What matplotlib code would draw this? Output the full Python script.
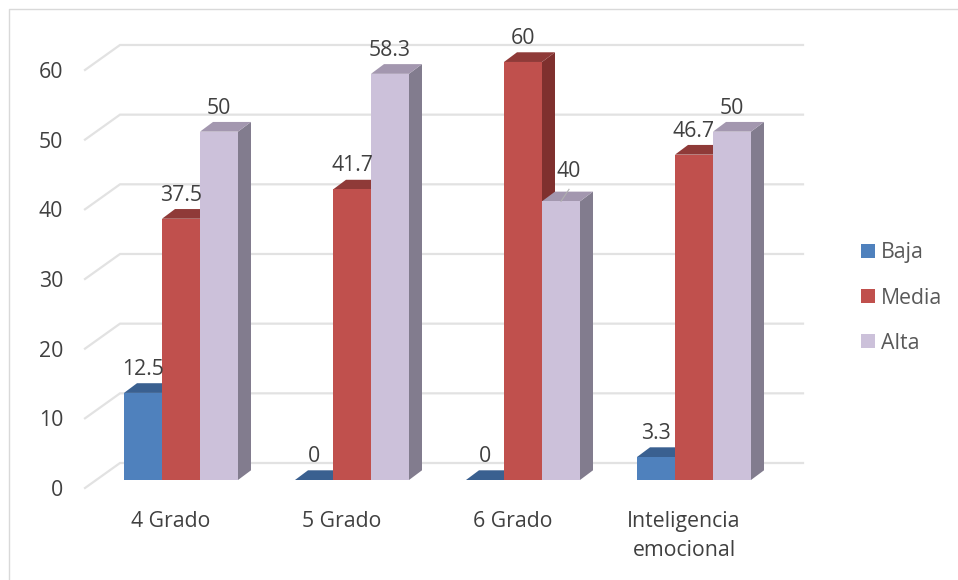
import matplotlib
matplotlib.use('Agg')
import matplotlib.pyplot as plt
from matplotlib.lines import Line2D
from matplotlib.patches import Polygon, Patch, Rectangle

categories = ['4 Grado', '5 Grado', '6 Grado', 'Inteligencia\nemocional']
series = ['Baja', 'Media', 'Alta']
baja = [12.5, 0, 0, 3.3]
media = [37.5, 41.7, 60, 46.7]
alta = [50, 58.3, 40, 50]
labels_baja = ['12.5', '0', '0', '3.3']
labels_media = ['37.5', '41.7', '60', '46.7']
labels_alta = ['50', '58.3', '40', '50']
yticks = [0, 10, 20, 30, 40, 50, 60]

front = ['#4F81BD', '#C0504D', '#CCC1DA']
top = ['#3A6090', '#8F3A38', '#A397AF']
side = ['#2F5480', '#7F302E', '#827C8E']

W, H = 958, 580
PX_X = 171.0   # px per group
PX_Y = 6.967   # px per value unit
X0 = 181.0     # pixel of first group centre
Y0 = 480.0     # pixel of value 0
FS = 15.3

plt.rcParams['font.family'] = ['Open Sans', 'DejaVu Sans']
fig = plt.figure(figsize=(W / 100, H / 100), dpi=100)
ax = fig.add_axes([0, 0, 1, 1])
ax.set_xlim(-X0 / PX_X, (W - X0) / PX_X)
ax.set_ylim((Y0 - H) / PX_Y, Y0 / PX_Y)
ax.axis('off')

bar_w = 38 / PX_X
dx = 13 / PX_X
dy = 9.7 / PX_Y
text_col = '#404040'
grid_col = '#E2E2E2'

# back wall and floor lines
back_dy = 17 / PX_Y
front_dy = -8 / PX_Y
left_back = -61 / PX_X
left_front = -96 / PX_X
for v in yticks:
    ax.plot([left_front, left_back, (803 - X0) / PX_X], [v + front_dy, v + back_dy, v + back_dy],
            color=grid_col, lw=1.6, solid_joinstyle='miter', zorder=1)
    ax.text((63 - X0) / PX_X, v - 10.5 / PX_Y, str(v), ha='right', va='center', fontsize=FS, color=text_col)

for i, cat in enumerate(categories):
    ax.text(i - 10 / PX_X, -31 / PX_Y, cat, ha='center', va='top', fontsize=FS,
            color=text_col, linespacing=1.48)

# bars, painted left to right so each one covers the side of the previous
for i in range(len(categories)):
    vals = [baja[i], media[i], alta[i]]
    for j, v in enumerate(vals):
        x0 = i + (j - 1.5) * bar_w
        x1 = x0 + bar_w
        z = 3 + i + j * 0.1
        ax.add_patch(Polygon([(x1, 0), (x1 + dx, dy), (x1 + dx, v + dy), (x1, v)], fc=side[j], ec='none', zorder=z))
        ax.add_patch(Polygon([(x0, v), (x1, v), (x1 + dx, v + dy), (x0 + dx, v + dy)], fc=top[j], ec='none', zorder=z))
        ax.add_patch(Rectangle((x0, 0), bar_w, v, fc=front[j], ec='none', zorder=z))

# data labels
for i in range(len(categories)):
    txts = [labels_baja[i], labels_media[i], labels_alta[i]]
    vals = [baja[i], media[i], alta[i]]
    for j, v in enumerate(vals):
        xc = i + (j - 1) * bar_w
        xt = xc
        off = 23.5 / PX_Y
        if v == 40:
            # this label was moved by hand in the original, hence the leader line
            off = 30 / PX_Y
            xt = xc + 8 / PX_X
            ax.plot([xc, xc + 8 / PX_X], [v, v + 12 / PX_Y], color='#B0B0B0', lw=0.8, zorder=9)
        ax.text(xt, v + off, txts[j], ha='center', va='center', fontsize=FS, color=text_col, zorder=10)

handles = [Patch(fc=c, ec='none') for c in front]
ax.legend(handles, series, loc='center left', bbox_to_anchor=(861 / W, 1 - 298 / H), frameon=False,
          fontsize=FS, labelcolor='#595959', handlelength=0.66, handleheight=0.66,
          handletextpad=0.28, labelspacing=1.14, borderpad=0, borderaxespad=0)

# chart frame: only the top and left edges show, the rest is cropped off
fig.add_artist(Line2D([8.5 / W, 8.5 / W, 1], [0, 1 - 8.5 / H, 1 - 8.5 / H], transform=fig.transFigure,
                      color='#D9D9D9', lw=1.0))

fig.savefig('out.png', dpi=100)
